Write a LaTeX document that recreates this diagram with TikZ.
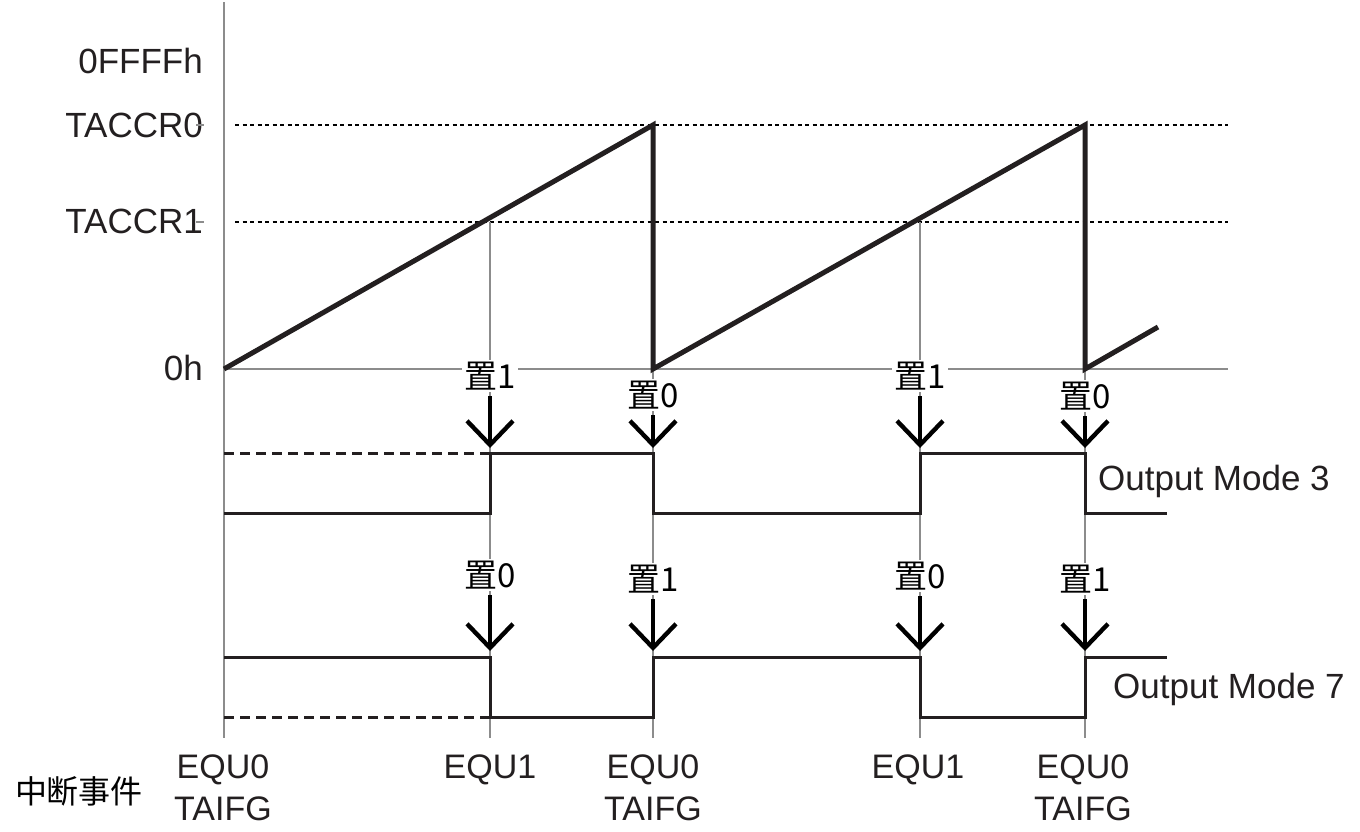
\documentclass[tikz,border=0pt]{standalone}
\usepackage{fontspec}
\setmainfont{Liberation Sans}
\newfontfamily\cjk{Noto Sans CJK SC}
\usepackage{tikz}
\usetikzlibrary{arrows.meta,positioning}
\definecolor{Axis}{HTML}{8C8C8C}
\definecolor{Ink}{HTML}{231F20}

\begin{document}
\begin{tikzpicture}[x=1pt,y=-1pt,
axisline/.style={draw=Axis,line width=2pt},
drop/.style={draw=Axis,line width=1.4pt},
level/.style={draw=black,line width=1.2pt,dash pattern=on 4pt off 3.5pt},
ramp/.style={draw=Ink,line width=5pt,line join=miter},
wave/.style={draw=Ink,line width=3pt},
ghost/.style={wave,dash pattern=on 10pt off 6pt},
arr/.style={-{Straight Barb[length=24pt,width=46pt]},draw=black,line width=4.4pt,shorten <=4pt},
val/.style={font=\fontsize{35}{40}\selectfont,text=Ink,anchor=base east,inner sep=0pt},
flag/.style={font=\cjk\fontsize{33}{36}\selectfont,text=black,fill=white,inner sep=2pt},
mode/.style={font=\fontsize{35}{40}\selectfont,text=Ink,anchor=base west,inner sep=0pt},
evt/.style={font=\fontsize{34}{42}\selectfont,text=Ink,align=center,anchor=north,inner sep=0pt}]
\useasboundingbox (0,0) rectangle (1360,831);
\coordinate (top) at (224,2);
\coordinate (bot) at (224,738);
\coordinate (o) at (224,369);
\coordinate (xend) at (1228,369);
\coordinate (c0a) at (235,125);
\coordinate (c0b) at (1228,125);
\coordinate (c1a) at (235,222);
\coordinate (c1b) at (1228,222);
\coordinate (p1) at (653,125);
\coordinate (p2) at (1085,125);
\coordinate (q1) at (653,369);
\coordinate (q2) at (1085,369);
\coordinate (tail) at (1158,327);
\draw[axisline] (top) -- (bot);
\draw[axisline] (o) -- (xend);
\draw[level] (c0a) -- (c0b);
\draw[level] (c1a) -- (c1b);
\draw[drop] (490,222) -- (490,738);
\draw[drop] (920,222) -- (920,738);
\draw[drop] (q1) -- (653,738);
\draw[drop] (q2) -- (1085,738);
\draw[ramp] (o) -- (p1) -- (q1) -- (p2) -- (q2) -- (tail);
\node[val] (vmax) at (203,73) {0FFFFh};
\node[val] (v0) at (203,137) {TACCR0};
\node[val] (v1) at (203,233) {TACCR1};
\node[val] (vz) at (203,380) {0h};
\draw[drop] (196,125) -- (204,125);
\draw[drop] (196,222) -- (204,222);
\draw[ghost] (224,453) -- (490,453);
\draw[wave] (224,513) -- (490,513) -- (490,453) -- (653,453) -- (653,513) -- (920,513) -- (920,453) -- (1085,453) -- (1085,513) -- (1167,513);
\draw[ghost] (224,717) -- (490,717);
\draw[wave] (224,657) -- (490,657) -- (490,717) -- (653,717) -- (653,657) -- (920,657) -- (920,717) -- (1085,717) -- (1085,657) -- (1167,657);
\node[flag] (s1) at (490,376) {置1};
\node[flag] (s2) at (653,395) {置0};
\node[flag] (s3) at (920,376) {置1};
\node[flag] (s4) at (1085,396) {置0};
\node[flag] (s5) at (490,575) {置0};
\node[flag] (s6) at (653,579) {置1};
\node[flag] (s7) at (920,576) {置0};
\node[flag] (s8) at (1085,579) {置1};
\coordinate (t1) at (490,448);
\coordinate (t2) at (653,448);
\coordinate (t3) at (920,448);
\coordinate (t4) at (1085,448);
\coordinate (t5) at (490,651);
\coordinate (t6) at (653,651);
\coordinate (t7) at (920,651);
\coordinate (t8) at (1085,651);
\draw[arr] (s1) -- (t1);
\draw[arr] (s2) -- (t2);
\draw[arr] (s3) -- (t3);
\draw[arr] (s4) -- (t4);
\draw[arr] (s5) -- (t5);
\draw[arr] (s6) -- (t6);
\draw[arr] (s7) -- (t7);
\draw[arr] (s8) -- (t8);
\node[mode] (m3) at (1098,490) {Output Mode 3};
\node[mode] (m7) at (1113,698) {Output Mode 7};
\node[font=\cjk\fontsize{32}{36}\selectfont,text=black] (irq) at (79,791) {中断事件};
\node[evt] (e1) at (223,755) {EQU0\\TAIFG};
\node[evt] (e2) at (490,755) {EQU1};
\node[evt] (e3) at (653,755) {EQU0\\TAIFG};
\node[evt] (e4) at (918,755) {EQU1};
\node[evt] (e5) at (1083,755) {EQU0\\TAIFG};
\end{tikzpicture}
\end{document}
